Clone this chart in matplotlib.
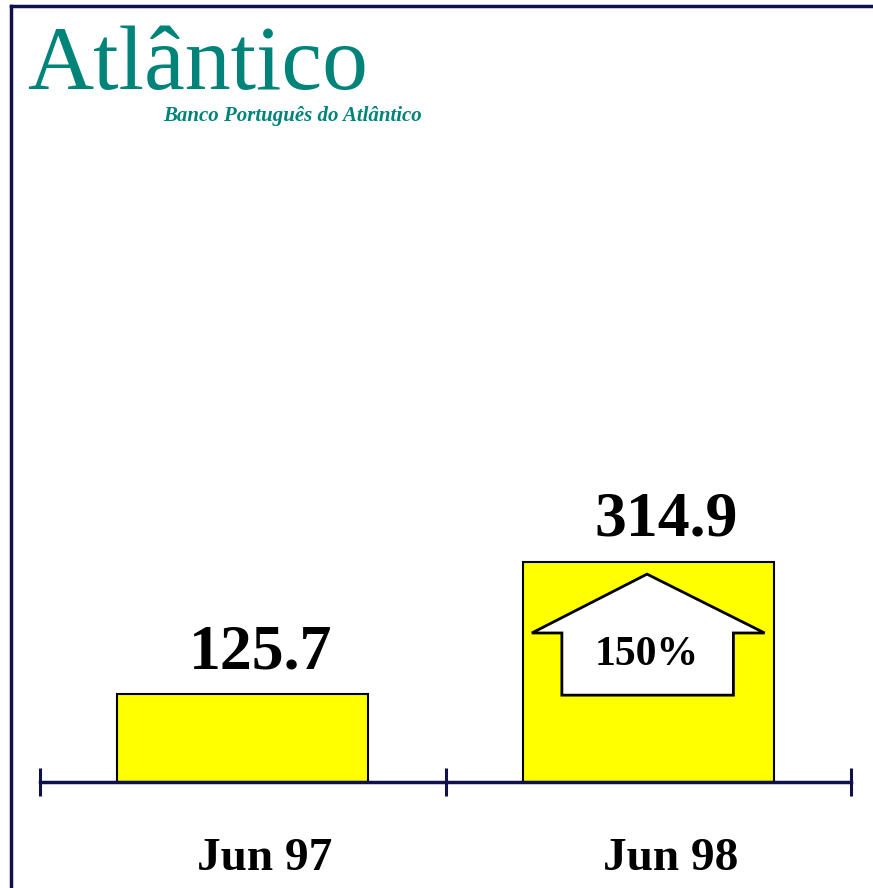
import matplotlib.pyplot as plt
from matplotlib.lines import Line2D
from matplotlib.patches import Polygon

# data
categories = ['Jun 97', 'Jun 98']
values = [125.7, 314.9]
growth = int((values[1] / values[0] - 1) * 100)

W, H = 873, 888
fig = plt.figure(figsize=(W / 100, H / 100), dpi=100)
fig.patch.set_facecolor('white')

navy = '#10104a'
teal = '#00847a'

# frame (top + left only, picture is cropped)
fig.add_artist(Line2D([11 / W, 1], [1 - 6 / H, 1 - 6 / H], color=navy, lw=2.5))
fig.add_artist(Line2D([11 / W, 11 / W], [0, 1 - 6 / H], color=navy, lw=2.5))

# logo
fig.text(27 / W, 1 - 89 / H, 'Atlântico', family='Liberation Serif', fontsize=66,
         color=teal, ha='left', va='baseline')
fig.text(163 / W, 1 - 121 / H, 'Banco Português do Atlântico', family='Liberation Serif',
         fontsize=15, style='italic', fontweight='bold', color=teal, ha='left', va='baseline')

# axes: x 0..2 -> px 40..851, 0.7 px per unit
ymax = 450
ax = fig.add_axes([40 / W, (H - 782) / H, 811 / W, ymax * 0.7 / H])
ax.set_xlim(0, 2)
ax.set_ylim(0, ymax)
ax.patch.set_visible(False)
for s in ['top', 'right', 'left']:
    ax.spines[s].set_visible(False)
ax.spines['bottom'].set_color(navy)
ax.spines['bottom'].set_linewidth(2.5)
ax.set_yticks([])
ax.set_xticks([0, 1, 2])
ax.set_xticklabels([])
ax.tick_params(axis='x', direction='inout', length=20, width=2.2, color=navy)

xs = [0.5, 1.5]
bw = 0.62
ax.bar(xs, values, width=bw, color='#ffff00', edgecolor='black', linewidth=1.5, zorder=2)

for x, v, c in zip(xs, values, categories):
    ax.text(x + 0.045, v + 26 / 0.7, f'{v:.1f}', family='Liberation Serif', fontweight='bold',
            fontsize=46, ha='center', va='baseline')
    ax.text(x + 0.055, -110, c, family='Liberation Serif', fontweight='bold',
            fontsize=34, ha='center', va='center', clip_on=False)

# growth arrow inside the second bar
cx, v = xs[1], values[1]
wing, shaft = 0.287, 0.21
tip_y, wing_y, base_y = 0.943 * v, 0.676 * v, 0.394 * v
arrow = Polygon([(cx - 0.003, tip_y), (cx + wing, wing_y), (cx + shaft, wing_y),
                 (cx + shaft, base_y), (cx - shaft - 0.003, base_y),
                 (cx - shaft - 0.003, wing_y), (cx - wing, wing_y)],
                closed=True, facecolor='white', edgecolor='black', linewidth=2, zorder=3)
ax.add_patch(arrow)
ax.text(cx - 0.003, 0.575 * v, f'{growth}%', family='Liberation Serif', fontweight='bold',
        fontsize=30, ha='center', va='center', zorder=4)

fig.savefig('out.png', dpi=100)
